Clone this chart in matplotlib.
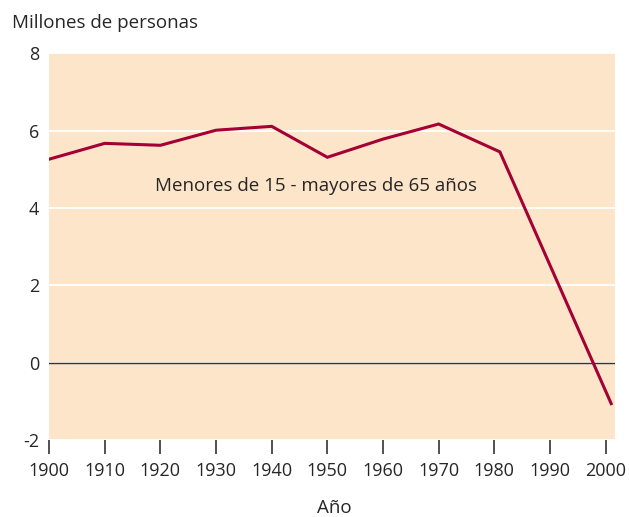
import matplotlib

matplotlib.use("Agg")
import matplotlib.pyplot as plt

# Net "working age" balance: under-15 minus over-65 population (millions)
YEARS = [1900, 1910, 1920, 1930, 1940, 1950, 1960, 1970, 1981, 2001]
VALUES = [5.26, 5.67, 5.62, 6.01, 6.11, 5.31, 5.78, 6.17, 5.45, -1.06]

X_TICKS = [1900, 1910, 1920, 1930, 1940, 1950, 1960, 1970, 1980, 1990, 2000]
Y_TICKS = [-2, 0, 2, 4, 6, 8]

BG = "#fde5ca"
LINE = "#a50034"
TEXT = "#262626"


def main() -> None:
    plt.rcParams.update(
        {
            "font.family": ["Open Sans", "DejaVu Sans"],
            "axes.unicode_minus": False,
        }
    )
    fig = plt.figure(figsize=(6.29, 5.17), dpi=100)
    ax = fig.add_axes((0.078, 0.149, 0.899, 0.748))

    ax.set_facecolor(BG)
    ax.plot(YEARS, VALUES, color=LINE, lw=2.2, solid_joinstyle="miter", zorder=3)
    ax.axhline(0, color="#333333", lw=1.0, zorder=2)

    ax.set_xlim(1900, 2001.6)
    ax.set_ylim(-2, 8)
    ax.set_xticks(X_TICKS)
    ax.set_yticks(Y_TICKS)

    ax.yaxis.grid(True, color="white", lw=1.3)
    ax.set_axisbelow(True)
    for spine in ax.spines.values():
        spine.set_visible(False)

    ax.tick_params(axis="y", length=0, pad=7, labelsize=13, labelcolor=TEXT)
    ax.tick_params(axis="x", length=10, width=1.2, color="#333333", pad=6,
                   labelsize=13, labelcolor=TEXT)

    ax.text(1948, 4.56, "Menores de 15 - mayores de 65 años", ha="center",
            va="center", fontsize=13.5, color=TEXT)

    fig.text(0.019, 0.955, "Millones de personas", ha="left", va="center",
             fontsize=13.5, color=TEXT)
    fig.text(0.532, 0.017, "Año", ha="center", va="center", fontsize=13.5,
             color=TEXT)

    fig.savefig("out.png", dpi=100)
    plt.close(fig)


if __name__ == "__main__":
    main()
